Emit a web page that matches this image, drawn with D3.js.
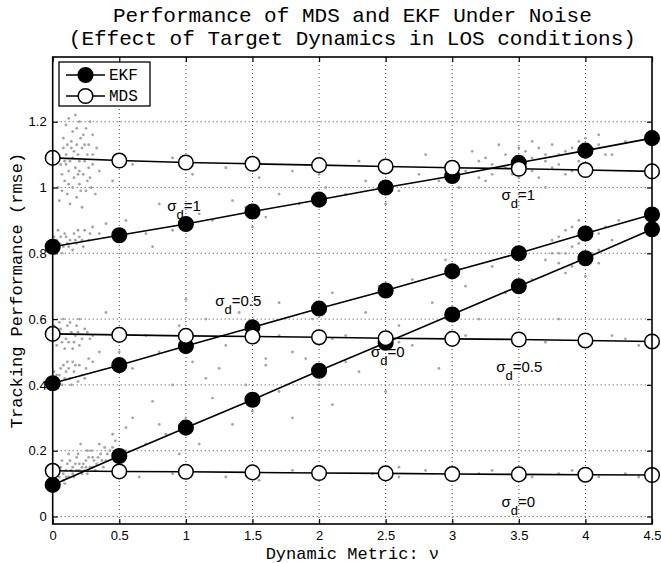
<!DOCTYPE html>
<html>
<head>
<meta charset="utf-8">
<script src="https://cdn.jsdelivr.net/npm/d3@7"></script>
<style>
  body { margin: 0; background: #fff; }
  svg text { fill: #000; }
  .mono { font-family: "Liberation Mono", "DejaVu Sans Mono", monospace; }
  .sans { font-family: "Liberation Sans", Arial, sans-serif; }
</style>
</head>
<body>
<div id="chart"></div>
<script>
"use strict";

// dynamic metric (x)
const dynMetric = [0, 0.5, 1, 1.5, 2, 2.5, 3, 3.5, 4, 4.5];

// EKF rmse per sigma_d
const ekfS0 = [0.096, 0.184, 0.270, 0.355, 0.443, 0.528, 0.614, 0.700, 0.785, 0.873];
const ekfS05 = [0.405, 0.460, 0.518, 0.575, 0.632, 0.687, 0.745, 0.800, 0.860, 0.918];
const ekfS1 = [0.820, 0.855, 0.889, 0.927, 0.963, 1.000, 1.035, 1.075, 1.112, 1.150];

// MDS rmse per sigma_d
const mdsS0 = [0.139, 0.137, 0.136, 0.134, 0.132, 0.131, 0.129, 0.128, 0.127, 0.126];
const mdsS05 = [0.555, 0.552, 0.549, 0.547, 0.545, 0.542, 0.540, 0.538, 0.535, 0.532];
const mdsS1 = [1.090, 1.082, 1.076, 1.072, 1.068, 1.064, 1.060, 1.057, 1.053, 1.049];

const xTicks = [0, 0.5, 1, 1.5, 2, 2.5, 3, 3.5, 4, 4.5];
const yTicks = [0, 0.2, 0.4, 0.6, 0.8, 1, 1.2];

// raw trial points (gray cloud)
const cloudS1 = [
  [0.12,1.21],[0.2,1.2],[0.15,1.17],[0.25,1.18],[0.08,1.15],[0.18,1.13],[0.22,1.12],[0.3,1.16],[0.1,1.1],[0.14,1.12],
  [0.2,1.08],[0.26,1.1],[0.06,1.07],[0.12,1.05],[0.17,1.06],[0.23,1.04],[0.3,1.07],[0.09,1.02],[0.15,1.0],[0.2,1.01],
  [0.28,1.03],[0.11,0.98],[0.18,0.97],[0.25,0.99],[0.07,1.04],[0.33,1.12],[0.05,0.96],[0.13,1.08],[0.21,1.15],[0.27,1.06],
  [0.1,1.19],[0.17,1.22],[0.23,1.16],[0.14,1.14],[0.27,1.13],[0.19,1.1],[0.08,1.12],[0.24,1.08],[0.16,1.03],[0.29,1.0],
  [0.13,0.95],[0.22,0.94],[0.35,1.05],[0.32,0.98],[0.04,1.0],[0.1,1.07],[0.19,1.04],[0.26,1.02],[0.15,1.09],[0.21,0.99],
  [0.3,1.1],[0.12,1.01],[0.07,0.99],[0.18,1.18],[0.28,1.2],[0.16,1.11],[0.24,1.13],[0.11,1.13],[0.2,1.05],[0.09,1.08],
  [0.02,0.81],[0.05,0.83],[0.08,0.82],[0.1,0.85],[0.13,0.84],[0.16,0.86],[0.2,0.85],[0.24,0.87],[0.28,0.86],[0.06,0.85],
  [0.12,0.82],[0.18,0.83],[0.22,0.84],[0.04,0.87],[0.3,0.88],[0.03,0.84],[0.07,0.8],[0.11,0.83],[0.15,0.81],[0.19,0.87],
  [0.23,0.82],[0.27,0.84],[0.09,0.86],[0.17,0.84],[0.35,0.86],[0.4,0.89],[0.01,0.85],
  [0.55,0.9],[0.7,0.86],[0.8,0.95],[0.9,0.87],[1.1,0.92],[1.2,0.9],[1.35,0.96],[1.45,0.94],[1.6,0.91],[1.7,0.98],
  [1.85,0.95],[2.05,1.0],[2.2,0.98],[2.35,1.02],[2.6,0.99],[2.75,1.04],[2.9,1.02],[0.6,1.07],[0.9,1.09],[1.3,1.06],
  [1.8,1.05],[2.3,1.08],[2.8,1.1],[0.75,0.82],[1.5,0.88],[2.5,0.95],[1.05,1.04],[1.55,1.03],[2.0,1.04],[0.45,1.02],
  [3.05,1.0],[3.1,1.05],[3.2,1.08],[3.25,1.02],[3.3,1.07],[3.4,1.1],[3.45,1.04],[3.5,1.12],[3.55,1.06],[3.6,1.09],
  [3.65,1.03],[3.7,1.1],[3.75,1.13],[3.8,1.07],[3.85,1.11],[3.9,1.05],[3.95,1.14],[4.0,1.09],[4.05,1.12],[4.1,1.16],
  [3.35,1.13],[3.15,1.11],[3.7,1.0],[4.2,1.1],[4.3,1.14],[3.5,0.98],[3.3,1.04],[3.45,1.08],[3.55,1.11],[3.6,1.05],
  [3.65,1.12],[3.75,1.06],[3.8,1.1],[3.85,1.04],[3.9,1.12],[3.5,1.03],[3.4,1.06],[3.2,1.03],[3.7,1.08],[3.95,1.08],
  [4.0,1.15],[4.1,1.13],[4.15,1.1],[3.6,1.14],[3.25,1.09]
];
const cloudS05 = [
  [0.03,0.52],[0.06,0.57],[0.1,0.54],[0.13,0.59],[0.17,0.55],[0.2,0.52],[0.24,0.57],[0.28,0.54],[0.08,0.6],[0.15,0.51],
  [0.04,0.55],[0.07,0.53],[0.11,0.58],[0.14,0.56],[0.18,0.58],[0.22,0.54],[0.26,0.56],[0.09,0.51],[0.2,0.6],[0.3,0.55],
  [0.01,0.58],[0.16,0.53],[0.05,0.59],[0.12,0.53],[0.19,0.56],
  [0.02,0.41],[0.05,0.43],[0.09,0.42],[0.12,0.45],[0.16,0.44],[0.2,0.46],[0.25,0.45],[0.04,0.39],[0.14,0.4],[0.3,0.47],
  [0.03,0.43],[0.07,0.4],[0.1,0.44],[0.13,0.42],[0.17,0.46],[0.22,0.43],[0.27,0.48],[0.06,0.45],[0.19,0.41],[0.11,0.47],
  [0.35,0.5],[0.01,0.44],[0.08,0.46],[0.15,0.47],[0.24,0.42],
  [0.5,0.5],[0.6,0.45],[0.7,0.55],[0.8,0.5],[0.95,0.58],[1.05,0.47],[1.15,0.6],[1.3,0.52],[1.4,0.62],[1.55,0.55],
  [1.7,0.65],[1.8,0.5],[1.95,0.6],[2.1,0.68],[2.2,0.55],[2.35,0.62],[2.45,0.7],[2.6,0.58],[2.7,0.72],[2.85,0.65],
  [2.95,0.78],[3.1,0.7],[3.2,0.6],[3.3,0.76],[3.4,0.68],[3.6,0.72],[0.4,0.62],[1.0,0.66],[1.6,0.48],[2.4,0.5],
  [3.0,0.55],[3.8,0.6],[4.2,0.55],[2.6,0.53],[3.1,0.55],[3.7,0.53],[4.3,0.54],[4.4,0.52],[1.7,0.55],[2.1,0.54],
  [3.7,0.78],[3.75,0.84],[3.8,0.8],[3.85,0.87],[3.9,0.76],[3.95,0.83],[4.0,0.79],[4.05,0.86],[4.1,0.81],[4.15,0.88],
  [4.2,0.84],[3.85,0.74],[4.0,0.73],[3.95,0.9],[4.25,0.9],[3.75,0.8],[3.8,0.85],[3.9,0.82],[3.95,0.78],[4.0,0.84],
  [4.05,0.8],[4.1,0.86],[3.85,0.8],[3.9,0.88],[4.0,0.88],[3.8,0.77],[4.1,0.77]
];
const cloudS0 = [
  [0.02,0.11],[0.05,0.12],[0.08,0.13],[0.1,0.14],[0.12,0.12],[0.15,0.15],[0.18,0.14],[0.2,0.16],[0.22,0.13],[0.25,0.17],
  [0.28,0.15],[0.3,0.18],[0.33,0.16],[0.36,0.19],[0.4,0.17],[0.43,0.2],[0.06,0.15],[0.13,0.17],[0.19,0.19],[0.26,0.2],
  [0.03,0.14],[0.09,0.1],[0.16,0.12],[0.24,0.14],[0.32,0.14],[0.38,0.15],[0.12,0.19],[0.07,0.17],[0.21,0.22],[0.35,0.22],
  [0.04,0.13],[0.1,0.12],[0.14,0.14],[0.17,0.16],[0.2,0.14],[0.23,0.16],[0.27,0.18],[0.3,0.15],[0.34,0.18],[0.37,0.17],
  [0.41,0.19],[0.45,0.21],[0.11,0.16],[0.18,0.18],[0.25,0.15],[0.29,0.2],[0.39,0.21],[0.47,0.23],[0.08,0.11],[0.15,0.13],
  [0.22,0.15],[0.31,0.17],[0.05,0.14],[0.26,0.13],
  [0.45,0.25],[0.55,0.2],[0.6,0.3],[0.7,0.22],[0.75,0.35],[0.85,0.25],[0.9,0.4],[1.0,0.3],[1.1,0.22],[1.2,0.36],
  [1.25,0.45],[1.35,0.28],[1.45,0.4],[1.5,0.32],[1.6,0.46],[1.7,0.38],[1.8,0.3],[1.9,0.48],[2.0,0.4],[2.1,0.34],
  [2.2,0.47],[2.3,0.44],[2.5,0.38],[2.7,0.52],[2.9,0.45],[0.5,0.14],[0.9,0.13],[1.3,0.12],[1.8,0.14],[2.4,0.13],
  [3.0,0.12],[3.3,0.14],[3.8,0.13],[4.1,0.12],[0.65,0.12],[1.55,0.11],[2.6,0.15],[2.6,0.12],[2.8,0.14],[3.2,0.13],
  [3.6,0.12],[3.9,0.14],[4.3,0.13],[4.4,0.12],[0.8,0.28],[1.15,0.42],[0.95,0.19],[0.55,0.27]
];

// sigma_d annotations: value, x, y (data units, left/baseline)
const noteVals = ["1", "1", "0.5", "0", "0.5", "0"];
const noteX = [0.86, 3.37, 1.22, 2.39, 3.33, 3.37];
const noteY = [0.929, 0.961, 0.64, 0.485, 0.44, 0.028];

const W = 661, H = 563;
const M = { left: 52.7, right: 652, top: 57, bottom: 524 };

const svg = d3.select("#chart").append("svg")
  .attr("width", W)
  .attr("height", H);

const x = d3.scaleLinear().domain([0, 4.5]).range([M.left, M.right]);
// y: 0 -> 516.5, 1.2 -> 121.7
const y = d3.scaleLinear().domain([0, 1.2]).range([516.5, 121.7]);

// grid (dotted)
const grid = svg.append("g").attr("stroke", "#444").attr("stroke-width", 1)
  .attr("stroke-dasharray", "1,3");
grid.selectAll(".gx").data(xTicks.slice(1, -1)).enter().append("line")
  .attr("x1", d => x(d)).attr("x2", d => x(d))
  .attr("y1", M.top).attr("y2", M.bottom);
grid.selectAll(".gy").data(yTicks).enter().append("line")
  .attr("x1", M.left).attr("x2", M.right)
  .attr("y1", d => y(d)).attr("y2", d => y(d));

// gray clouds
const cloud = svg.append("g").attr("fill", "#a4a4a4");
[cloudS1, cloudS05, cloudS0].forEach(pts => {
  cloud.selectAll(null).data(pts).enter().append("circle")
    .attr("cx", d => x(d[0])).attr("cy", d => y(d[1])).attr("r", 1.4);
});

// annotations
const notes = svg.append("g").attr("class", "sans").style("font-size", "15px");
noteVals.forEach((v, i) => {
  const t = notes.append("text").attr("x", x(noteX[i])).attr("y", y(noteY[i]));
  t.append("tspan").text("σ");
  t.append("tspan").attr("dy", 8).style("font-size", "13px").text("d");
  t.append("tspan").attr("dy", -8).text("=" + v);
});

const line = d3.line().x((d, i) => x(dynMetric[i])).y(d => y(d));

function drawSeries(vals, filled) {
  svg.append("path").datum(vals)
    .attr("fill", "none").attr("stroke", "#000").attr("stroke-width", 1.6)
    .attr("d", line);
  svg.append("g").selectAll("circle").data(vals).enter().append("circle")
    .attr("cx", (d, i) => x(dynMetric[i])).attr("cy", d => y(d))
    .attr("r", 7.3)
    .attr("fill", filled ? "#000" : "#fff")
    .attr("stroke", "#000").attr("stroke-width", 1.5);
}

[ekfS0, ekfS05, ekfS1].forEach(v => drawSeries(v, true));
[mdsS0, mdsS05, mdsS1].forEach(v => drawSeries(v, false));

// axes box
svg.append("rect")
  .attr("x", M.left).attr("y", M.top)
  .attr("width", M.right - M.left).attr("height", M.bottom - M.top)
  .attr("fill", "none").attr("stroke", "#000").attr("stroke-width", 1.6);

const xAxis = svg.append("g").attr("transform", `translate(0,${M.bottom})`)
  .call(d3.axisBottom(x).tickValues(xTicks).tickFormat(d3.format("")).tickSizeInner(-5).tickSizeOuter(0).tickPadding(7));
const xAxisTop = svg.append("g").attr("transform", `translate(0,${M.top})`)
  .call(d3.axisTop(x).tickValues(xTicks).tickSizeInner(-5).tickSizeOuter(0).tickFormat(""));
const yAxis = svg.append("g").attr("transform", `translate(${M.left},0)`)
  .call(d3.axisLeft(y).tickValues(yTicks).tickFormat(d3.format("")).tickSizeInner(-5).tickSizeOuter(0).tickPadding(6));
const yAxisR = svg.append("g").attr("transform", `translate(${M.right},0)`)
  .call(d3.axisRight(y).tickValues(yTicks).tickSizeInner(-5).tickSizeOuter(0).tickFormat(""));

[xAxis, xAxisTop, yAxis, yAxisR].forEach(a => {
  a.select(".domain").remove();
  a.selectAll("line").attr("stroke", "#000").attr("stroke-width", 1.2);
  a.selectAll("text").attr("class", "sans").style("font-size", "13px").attr("fill", "#000");
});

// legend
const lg = svg.append("g").attr("transform", "translate(59,62)");
lg.append("rect").attr("width", 91).attr("height", 44)
  .attr("fill", "#fff").attr("stroke", "#000").attr("stroke-width", 1.3);
[["EKF", true], ["MDS", false]].forEach((e, i) => {
  const cy = 13 + i * 21;
  lg.append("line").attr("x1", 7).attr("x2", 46).attr("y1", cy).attr("y2", cy)
    .attr("stroke", "#000").attr("stroke-width", 1.6);
  lg.append("circle").attr("cx", 26.5).attr("cy", cy).attr("r", 7.3)
    .attr("fill", e[1] ? "#000" : "#fff").attr("stroke", "#000").attr("stroke-width", 1.5);
  lg.append("text").attr("class", "mono").attr("x", 50).attr("y", cy + 5)
    .style("font-size", "16px").text(e[0]);
});

// titles
const cx = (M.left + M.right) / 2;
svg.append("text").attr("class", "mono").attr("x", cx).attr("y", 22)
  .attr("text-anchor", "middle").style("font-size", "21px")
  .text("Performance of MDS and EKF Under Noise");
svg.append("text").attr("class", "mono").attr("x", cx).attr("y", 45)
  .attr("text-anchor", "middle").style("font-size", "21px")
  .text("(Effect of Target Dynamics in LOS conditions)");

svg.append("text").attr("class", "mono").attr("x", cx).attr("y", 559)
  .attr("text-anchor", "middle").style("font-size", "17px")
  .text("Dynamic Metric: ν");
svg.append("text").attr("class", "mono")
  .attr("transform", `translate(22,${(M.top + M.bottom) / 2}) rotate(-90)`)
  .attr("text-anchor", "middle").style("font-size", "17px")
  .text("Tracking Performance (rmse)");
</script>
</body>
</html>
